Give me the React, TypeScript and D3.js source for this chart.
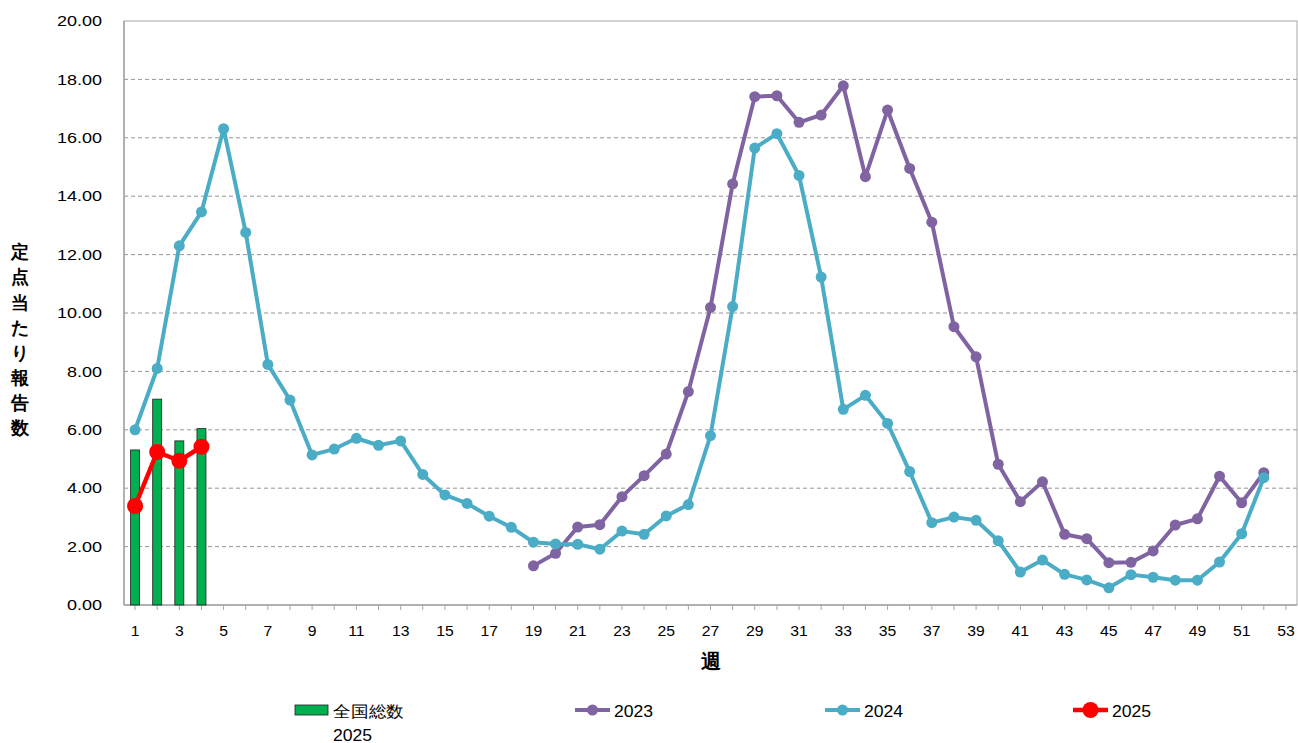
import React from 'react';
import * as d3 from 'd3';

// weeks 1..53 on the category axis
const weeks = d3.range(1, 54);
const xLabels = weeks.filter(w => w % 2 === 1);
const yTicks = [0, 2, 4, 6, 8, 10, 12, 14, 16, 18, 20];

// 全国総数 2025 (bars)
const total2025 = [5.31, 7.05, 5.62, 6.04];

// 2023 starts at week 19
const weeks2023 = d3.range(19, 53);
const values2023 = [
  1.34, 1.77, 2.67, 2.75, 3.71, 4.43, 5.17, 7.31, 10.19, 14.42,
  17.41, 17.44, 16.53, 16.78, 17.78, 14.67, 16.95, 14.95, 13.11, 9.53,
  8.50, 4.82, 3.54, 4.22, 2.42, 2.27, 1.45, 1.46, 1.85, 2.74,
  2.95, 4.41, 3.50, 4.53,
];

const values2024 = [
  6.00, 8.10, 12.30, 13.46, 16.31, 12.76, 8.24, 7.02, 5.14, 5.34,
  5.71, 5.47, 5.62, 4.47, 3.77, 3.48, 3.04, 2.66, 2.15, 2.09,
  2.08, 1.91, 2.53, 2.42, 3.05, 3.44, 5.80, 10.22, 15.65, 16.14,
  14.71, 11.23, 6.70, 7.18, 6.22, 4.57, 2.82, 3.01, 2.90, 2.20,
  1.13, 1.54, 1.05, 0.86, 0.59, 1.04, 0.95, 0.85, 0.85, 1.47,
  2.44, 4.36,
];

const values2025 = [3.39, 5.24, 4.94, 5.42];

const PURPLE = '#8064A2';
const CYAN = '#4BACC6';
const RED = '#FF0000';
const GREEN = '#00B050';
const FONT = '"Liberation Sans", Arial, sans-serif';

// text stretched horizontally like the original export
function Stretched({ x, y, sx, anchor = 'start', size, children, bold = false }: any) {
  return (
    <text transform={`translate(${x},${y}) scale(${sx},1)`} dy="0.35em" textAnchor={anchor} fontSize={size} fontWeight={bold ? 'bold' : 'normal'} fill="#000">
      {children}
    </text>
  );
}

export default function App() {
  const width = 1298;
  const height = 743;
  const left = 124, right = 1297, top = 21, bottom = 605;

  const x = d3.scalePoint<number>().domain(weeks).range([left, right]).padding(0.5);
  const y = d3.scaleLinear().domain([0, 20]).range([bottom, top]);

  const line = d3.line<[number, number]>().x(d => x(d[0])!).y(d => y(d[1]));

  const pts2023: [number, number][] = weeks2023.map((w, i) => [w, values2023[i]]);
  const pts2024: [number, number][] = values2024.map((v, i) => [i + 1, v]);
  const pts2025: [number, number][] = values2025.map((v, i) => [i + 1, v]);

  const barW = 9;

  const series = [
    { pts: pts2023, color: PURPLE, r: 5.5, sw: 4 },
    { pts: pts2024, color: CYAN, r: 5.5, sw: 4 },
    { pts: pts2025, color: RED, r: 8, sw: 4.5 },
  ];

  const yTitle = '定点当たり報告数'.split('');

  return (
    <svg width={width} height={height} style={{ position: 'absolute', left: 0, top: 0, background: '#fff' }} fontFamily={FONT}>
      {/* grid */}
      {yTicks.filter(t => t > 0 && t < 20).map(t => (
        <line key={t} x1={left} x2={right} y1={y(t)} y2={y(t)} stroke="#969696" strokeWidth={1} strokeDasharray="4,3" />
      ))}
      <rect x={left} y={top} width={right - left} height={bottom - top} fill="none" stroke="#a6a6a6" strokeWidth={1} />
      {/* x ticks */}
      {weeks.map(w => (
        <line key={w} x1={x(w)} x2={x(w)} y1={bottom} y2={bottom + 5} stroke="#a6a6a6" />
      ))}
      <line x1={left} x2={right} y1={bottom} y2={bottom} stroke="#a6a6a6" strokeWidth={1.5} />
      <line x1={left} x2={left} y1={top} y2={bottom} stroke="#a6a6a6" strokeWidth={1.5} />

      {/* y labels */}
      {yTicks.map(t => (
        <Stretched key={t} x={102} y={y(t)} sx={1.2} anchor="end" size={15}>{t.toFixed(2)}</Stretched>
      ))}
      {/* x labels */}
      {xLabels.map(w => (
        <Stretched key={w} x={x(w)} y={631} sx={1.05} anchor="middle" size={15}>{w}</Stretched>
      ))}
      <text x={(left + right) / 2} y={661} dy="0.35em" textAnchor="middle" fontSize={20} fontWeight="bold">週</text>
      {yTitle.map((c, i) => (
        <text key={i} x={20} y={252 + i * 25.1} dy="0.35em" textAnchor="middle" fontSize={18} fontWeight="bold">{c}</text>
      ))}

      {/* bars */}
      {total2025.map((v, i) => (
        <rect key={i} x={x(i + 1)! - barW / 2} y={y(v)} width={barW} height={y(0) - y(v)} fill={GREEN} stroke="#1f1f1f" strokeWidth={0.8} />
      ))}

      {/* lines */}
      {series.map((s, si) => (
        <g key={si}>
          <path d={line(s.pts)!} fill="none" stroke={s.color} strokeWidth={s.sw} strokeLinejoin="round" />
          {s.pts.map((p, i) => (
            <circle key={i} cx={x(p[0])} cy={y(p[1])} r={s.r} fill={s.color} />
          ))}
        </g>
      ))}

      {/* legend */}
      <rect x={295} y={705} width={33} height={10} fill={GREEN} stroke="#1f1f1f" strokeWidth={0.8} />
      <Stretched x={333} y={711} sx={1.1} size={16}>全国総数</Stretched>
      <Stretched x={333} y={735} sx={1.1} size={16}>2025</Stretched>

      <line x1={575} x2={610} y1={710} y2={710} stroke={PURPLE} strokeWidth={4} />
      <circle cx={592.5} cy={710} r={5.5} fill={PURPLE} />
      <Stretched x={614} y={711} sx={1.1} size={16}>2023</Stretched>

      <line x1={825} x2={860} y1={710} y2={710} stroke={CYAN} strokeWidth={4} />
      <circle cx={842.5} cy={710} r={5.5} fill={CYAN} />
      <Stretched x={864} y={711} sx={1.1} size={16}>2024</Stretched>

      <line x1={1073} x2={1108} y1={710} y2={710} stroke={RED} strokeWidth={4.5} />
      <circle cx={1090.5} cy={710} r={8} fill={RED} />
      <Stretched x={1112} y={711} sx={1.1} size={16}>2025</Stretched>
    </svg>
  );
}
